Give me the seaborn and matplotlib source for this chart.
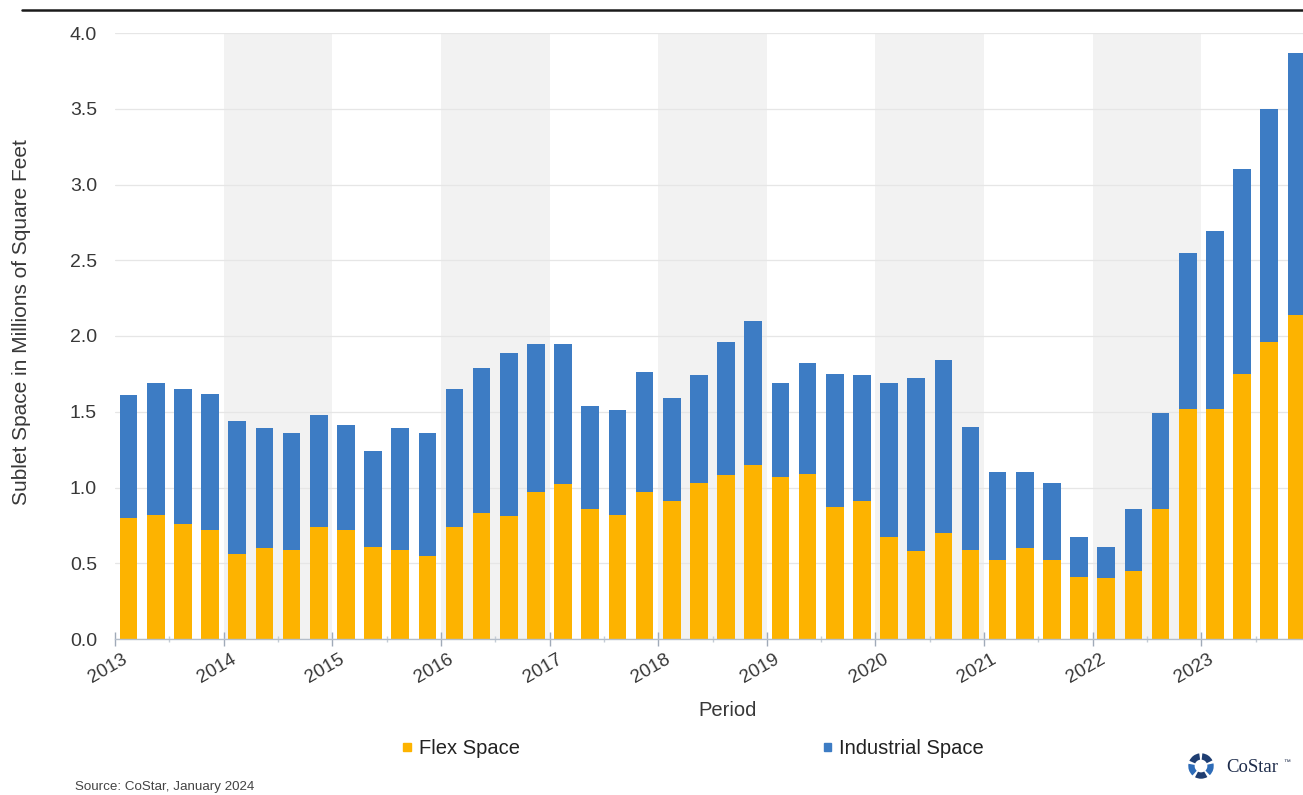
import numpy as np
import pandas as pd
import matplotlib
matplotlib.use("Agg")
import matplotlib.pyplot as plt
import matplotlib.transforms as mtransforms
from matplotlib.lines import Line2D
from matplotlib.patches import Patch, Wedge
from matplotlib.ticker import FixedLocator, MultipleLocator, FormatStrFormatter
import seaborn as sns

# Quarterly sublet availability, 2013 Q1 - 2023 Q4 (millions of sq ft)
years = [str(y) for y in range(2013, 2024)]
quarters = [f"{y} Q{q}" for y in years for q in range(1, 5)]

flex_space = [0.80, 0.82, 0.76, 0.72, 0.56, 0.60, 0.59, 0.74, 0.72, 0.61, 0.59, 0.55,
              0.74, 0.83, 0.81, 0.97, 1.02, 0.86, 0.82, 0.97, 0.91, 1.03, 1.08, 1.15,
              1.07, 1.09, 0.87, 0.91, 0.67, 0.58, 0.70, 0.59, 0.52, 0.60, 0.52, 0.41,
              0.40, 0.45, 0.86, 1.52, 1.52, 1.75, 1.96, 2.14]
industrial_space = [0.81, 0.87, 0.89, 0.90, 0.88, 0.79, 0.77, 0.74, 0.69, 0.63, 0.80, 0.81,
                    0.91, 0.96, 1.08, 0.98, 0.93, 0.68, 0.69, 0.79, 0.68, 0.71, 0.88, 0.95,
                    0.62, 0.73, 0.88, 0.83, 1.02, 1.14, 1.14, 0.81, 0.58, 0.50, 0.51, 0.26,
                    0.21, 0.41, 0.63, 1.03, 1.17, 1.35, 1.54, 1.73]

FLEX_COLOR = "#FDB300"
IND_COLOR = "#3D7CC4"
BAND_COLOR = "#F2F2F2"
TEXT_COLOR = "#383838"

sns.set_style("white")
plt.rcParams["font.family"] = ["Liberation Sans", "DejaVu Sans"]

df = pd.DataFrame({
    "quarter": quarters,
    "flex": flex_space,
    "industrial": industrial_space,
})
df["total"] = df["flex"] + df["industrial"]

W, H = 1303, 795
fig = plt.figure(figsize=(W / 100, H / 100), dpi=100)
ax_left, ax_right, ax_top, ax_bottom = 115, 1310, 33, 639
ax = fig.add_axes([ax_left / W, 1 - ax_bottom / H,
                   (ax_right - ax_left) / W, (ax_bottom - ax_top) / H])

# Alternate-year shading
for k in range(1, len(years), 2):
    ax.axvspan(4 * k - 0.5, 4 * k + 3.5, color=BAND_COLOR, zorder=0, lw=0)

# Stacked bars: full height in blue, flex portion drawn over it
sns.barplot(data=df, x="quarter", y="total", order=quarters, color=IND_COLOR,
            saturation=1, width=0.65, ax=ax, zorder=3, linewidth=0)
sns.barplot(data=df, x="quarter", y="flex", order=quarters, color=FLEX_COLOR,
            saturation=1, width=0.65, ax=ax, zorder=4, linewidth=0)

ax.set_xlim(-0.5, len(quarters) - 0.5)
ax.set_ylim(0, 4.0)
ax.yaxis.set_major_locator(MultipleLocator(0.5))
ax.yaxis.set_major_formatter(FormatStrFormatter("%.1f"))
ax.grid(axis="y", color="#E6E6E6", lw=0.9, zorder=1)
ax.grid(axis="x", visible=False)
ax.set_axisbelow(False)

# Year ticks at the start of each year, minor ticks mid-year
year_pos = [4 * i - 0.5 for i in range(len(years))]
ax.xaxis.set_major_locator(FixedLocator(year_pos))
ax.xaxis.set_minor_locator(FixedLocator([4 * i + 1.5 for i in range(len(years))]))
ax.set_xticklabels(years)

for side in ["top", "right", "left"]:
    ax.spines[side].set_visible(False)
ax.spines["bottom"].set_color("#B4BECA")
ax.spines["bottom"].set_linewidth(1.0)
ax.spines["bottom"].set_zorder(5)

ax.tick_params(axis="x", which="both", bottom=True)
ax.tick_params(axis="x", which="major", direction="inout", length=10, width=1,
               color="#A0AAB8", pad=3.5, labelsize=13.5, labelcolor=TEXT_COLOR)
ax.tick_params(axis="x", which="minor", direction="inout", length=5, width=1,
               color="#C4CCD6")
ax.tick_params(axis="y", length=0, pad=13, labelsize=14, labelcolor=TEXT_COLOR)

offset = mtransforms.ScaledTranslation(-7 / 100, 0, fig.dpi_scale_trans)
for lbl in ax.get_xticklabels():
    lbl.set_rotation(30)
    lbl.set_ha("center")
    lbl.set_transform(lbl.get_transform() + offset)

ax.set_xlabel("Period", fontsize=14.5, color=TEXT_COLOR)
ax.xaxis.set_label_coords((728 - ax_left) / (ax_right - ax_left),
                          -(710 - ax_bottom) / (ax_bottom - ax_top))
ax.xaxis.label.set_va("center")
ax.set_ylabel("Sublet Space in Millions of Square Feet", fontsize=15, color=TEXT_COLOR)
ax.yaxis.set_label_coords(-(ax_left - 22) / (ax_right - ax_left),
                          (ax_bottom - 322) / (ax_bottom - ax_top))
ax.yaxis.label.set_va("center")
ax.yaxis.label.set_ha("center")

# Legend
handles = [Patch(color=FLEX_COLOR, label="Flex Space"),
           Patch(color=IND_COLOR, label="Industrial Space")]
fig.legend(handles=handles, ncol=2, loc="center", bbox_to_anchor=(693.5 / W, 1 - 749 / H),
           frameon=False, fontsize=14.5, handlelength=0.36, handleheight=0.22,
           handletextpad=0.4, columnspacing=15.1, labelcolor="#222222")

# Rule above the chart
fig.add_artist(Line2D([22 / W, 1.0], [1 - 10 / H] * 2, color="#1a1a1a", lw=1.8,
                      transform=fig.transFigure))

# Source note
fig.text(75 / W, 1 - 787 / H, "Source: CoStar, January 2024", fontsize=9.6,
         color="#444444", ha="left", va="center")

# CoStar mark
logo = fig.add_axes([(1201 - 14) / W, 1 - (766 + 14) / H, 28 / W, 28 / H])
logo.set_xlim(-1.1, 1.1)
logo.set_ylim(-1.1, 1.1)
logo.set_aspect("equal")
logo.axis("off")
for i in range(5):
    start = 90 + i * 72 + 8
    logo.add_patch(Wedge((0, 0), 1.0, start, start + 58, width=0.5,
                         color="#1F3E72" if i % 2 == 0 else "#2E6CB8", lw=0))
fig.text(1226 / W, 1 - 767 / H, "CoStar", fontsize=13.5, color="#1D2B4A",
         family=["Liberation Serif", "DejaVu Serif"], ha="left", va="center")
fig.text(1283 / W, 1 - 762 / H, "™", fontsize=5, color="#1D2B4A",
         ha="left", va="center")

fig.savefig("out.png", dpi=100)
